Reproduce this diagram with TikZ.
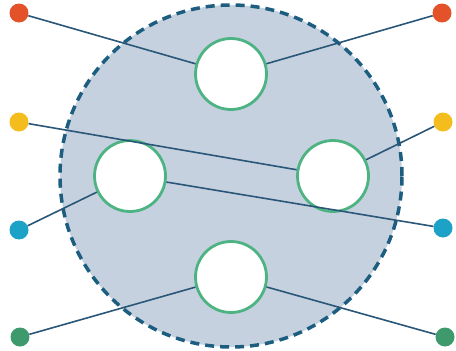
\documentclass[tikz,border=0pt]{standalone}
\usepackage{tikz}
\definecolor{HubFill}{HTML}{C5D1DF}
\definecolor{HubLine}{HTML}{1D5E80}
\definecolor{SlotLine}{HTML}{4DB383}
\definecolor{WireBlue}{HTML}{2A5778}
\definecolor{PortOrange}{HTML}{E4522A}
\definecolor{PortYellow}{HTML}{F4BD1E}
\definecolor{PortBlue}{HTML}{1CA2C6}
\definecolor{PortGreen}{HTML}{3E9A6C}

\begin{document}
\begin{tikzpicture}[x=1pt, y=-1pt,
  port/.style={circle, inner sep=0pt, minimum size=19pt},
  slot/.style={circle, draw=SlotLine, line width=2.8pt, fill=white, inner sep=0pt, minimum size=71pt},
  wire/.style={draw=WireBlue, line width=1.6pt}]
  \useasboundingbox (0,0) rectangle (456,351);
  % hub
  \node[circle, draw=HubLine, line width=3.5pt, dash pattern=on 9pt off 6pt, fill=HubFill, inner sep=0pt, minimum size=342pt] (hub) at (231,176) {};
  % slots
  \node[slot] (top) at (231,74) {};
  \node[slot] (left) at (130,176) {};
  \node[slot] (right) at (333,176) {};
  \node[slot] (bottom) at (231,277) {};
  % ports
  \node[port, fill=PortOrange] (o1) at (19,13) {};
  \node[port, fill=PortYellow] (y1) at (19,122) {};
  \node[port, fill=PortBlue] (b1) at (19,230) {};
  \node[port, fill=PortGreen] (g1) at (20,337) {};
  \node[port, fill=PortOrange] (o2) at (442,13) {};
  \node[port, fill=PortYellow] (y2) at (443,122) {};
  \node[port, fill=PortBlue] (b2) at (443,228) {};
  \node[port, fill=PortGreen] (g2) at (445,337) {};
  % wires
  \draw[wire] (o1) -- (top);
  \draw[wire] (o2) -- (top);
  \draw[wire] (y1) -- (right);
  \draw[wire] (y2) -- (right);
  \draw[wire] (b1) -- (left);
  \draw[wire] (b2) -- (left);
  \draw[wire] (g1) -- (bottom);
  \draw[wire] (g2) -- (bottom);
\end{tikzpicture}
\end{document}
